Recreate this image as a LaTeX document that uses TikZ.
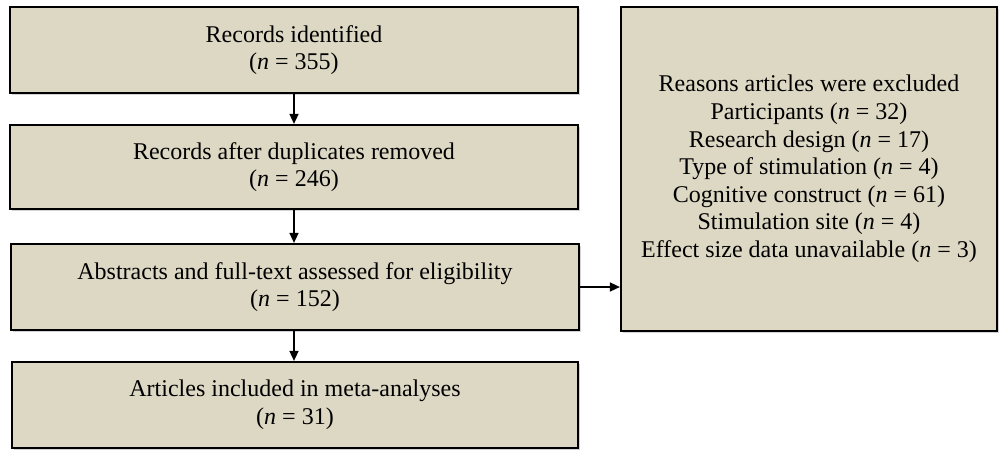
\documentclass[tikz,border=0pt]{standalone}
\usepackage{fontspec}
\setmainfont{Liberation Serif}
\usetikzlibrary{arrows.meta,shadows}
\definecolor{boxfill}{RGB}{221,216,196}
\begin{document}
\begin{tikzpicture}[x=0.5pt,y=-0.5pt,
    stage/.style={draw=black,line width=1.1pt,fill=boxfill,align=center,
      inner sep=0pt,font=\fontsize{12}{13.8}\selectfont,
      drop shadow={opacity=0.35,shadow xshift=1pt,shadow yshift=-1pt}},
    flow/.style={line width=0.8pt,-{Triangle[length=5pt,width=4.5pt]}}]
  \useasboundingbox (0,0) rectangle (1002,451);
  \draw
    (294,50) node[stage,minimum width=284pt,minimum height=43pt] (ident)
      {Records identified\\(\textit{n} = 355)}
    (294,167) node[stage,minimum width=284pt,minimum height=42pt] (dupl)
      {Records after duplicates removed\\(\textit{n} = 246)}
    (295,287) node[stage,minimum width=284pt,minimum height=43pt] (elig)
      {Abstracts and full-text assessed for eligibility\\(\textit{n} = 152)}
    (295,405) node[stage,minimum width=283pt,minimum height=43pt] (incl)
      {Articles included in meta-analyses\\(\textit{n} = 31)}
    (809,169) node[stage,minimum width=188pt,minimum height=162pt] (excl)
      {Reasons articles were excluded\\Participants (\textit{n} = 32)\\
       Research design (\textit{n} = 17)\\Type of stimulation (\textit{n} = 4)\\
       Cognitive construct (\textit{n} = 61)\\Stimulation site (\textit{n} = 4)\\
       Effect size data unavailable (\textit{n} = 3)};
  \begin{scope}[flow]
    \draw (ident) to (dupl);
    \draw (dupl) to (elig.north -| dupl);
    \draw (elig.south -| dupl) to (incl.north -| dupl);
    \draw (elig) to (elig -| excl.west);
  \end{scope}
\end{tikzpicture}
\end{document}
